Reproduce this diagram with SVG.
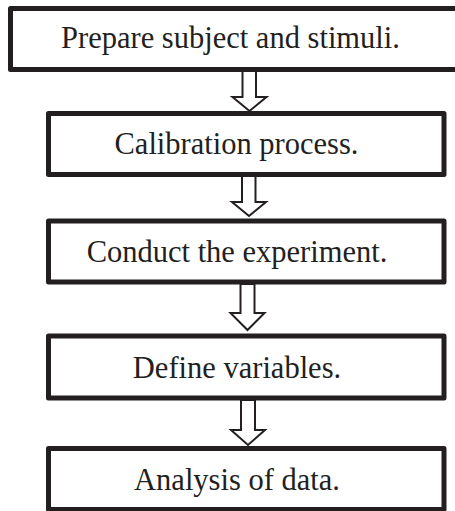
<svg xmlns="http://www.w3.org/2000/svg" width="455" height="511" viewBox="0 0 455 511">
<style>
.box{fill:#fff;stroke:#231f20;stroke-width:5;stroke-linejoin:round}
.arr{fill:#fff;stroke:#231f20;stroke-width:2;stroke-linejoin:miter}
.lbl{font-family:"Liberation Serif","Times New Roman",serif;font-size:30.5px;fill:#231f20;text-anchor:middle}
</style>
<rect width="455" height="511" fill="#fff"/>
<g id="connectors">
<polygon class="arr" points="242.5,70 256,70 256,97 266.5,97 249.5,111 232.5,97 242.5,97"/>
<polygon class="arr" points="242,176 255.5,176 255.5,202 266,202 249,216 232,202 242,202"/>
<polygon class="arr" points="240.5,284 254.5,284 254.5,313 264.5,313 247.5,330 230.5,313 240.5,313"/>
<polygon class="arr" points="241,400 255,400 255,430 265,430 248,445 231,430 241,430"/>
</g>
<g id="n1"><rect class="box" x="10.5" y="8.5" width="455" height="61"/><text class="lbl" x="230.5" y="48">Prepare subject and stimuli.</text></g>
<g id="n2"><rect class="box" x="48.5" y="113.5" width="395.5" height="61"/><text class="lbl" x="236.5" y="154">Calibration process.</text></g>
<g id="n3"><rect class="box" x="48.5" y="221" width="395.5" height="61"/><text class="lbl" x="237" y="262">Conduct the experiment.</text></g>
<g id="n4"><rect class="box" x="48.5" y="336" width="395.5" height="62"/><text class="lbl" x="237" y="378">Define variables.</text></g>
<g id="n5"><rect class="box" x="48.5" y="448.5" width="395.5" height="61"/><text class="lbl" x="237" y="490">Analysis of data.</text></g>
</svg>
